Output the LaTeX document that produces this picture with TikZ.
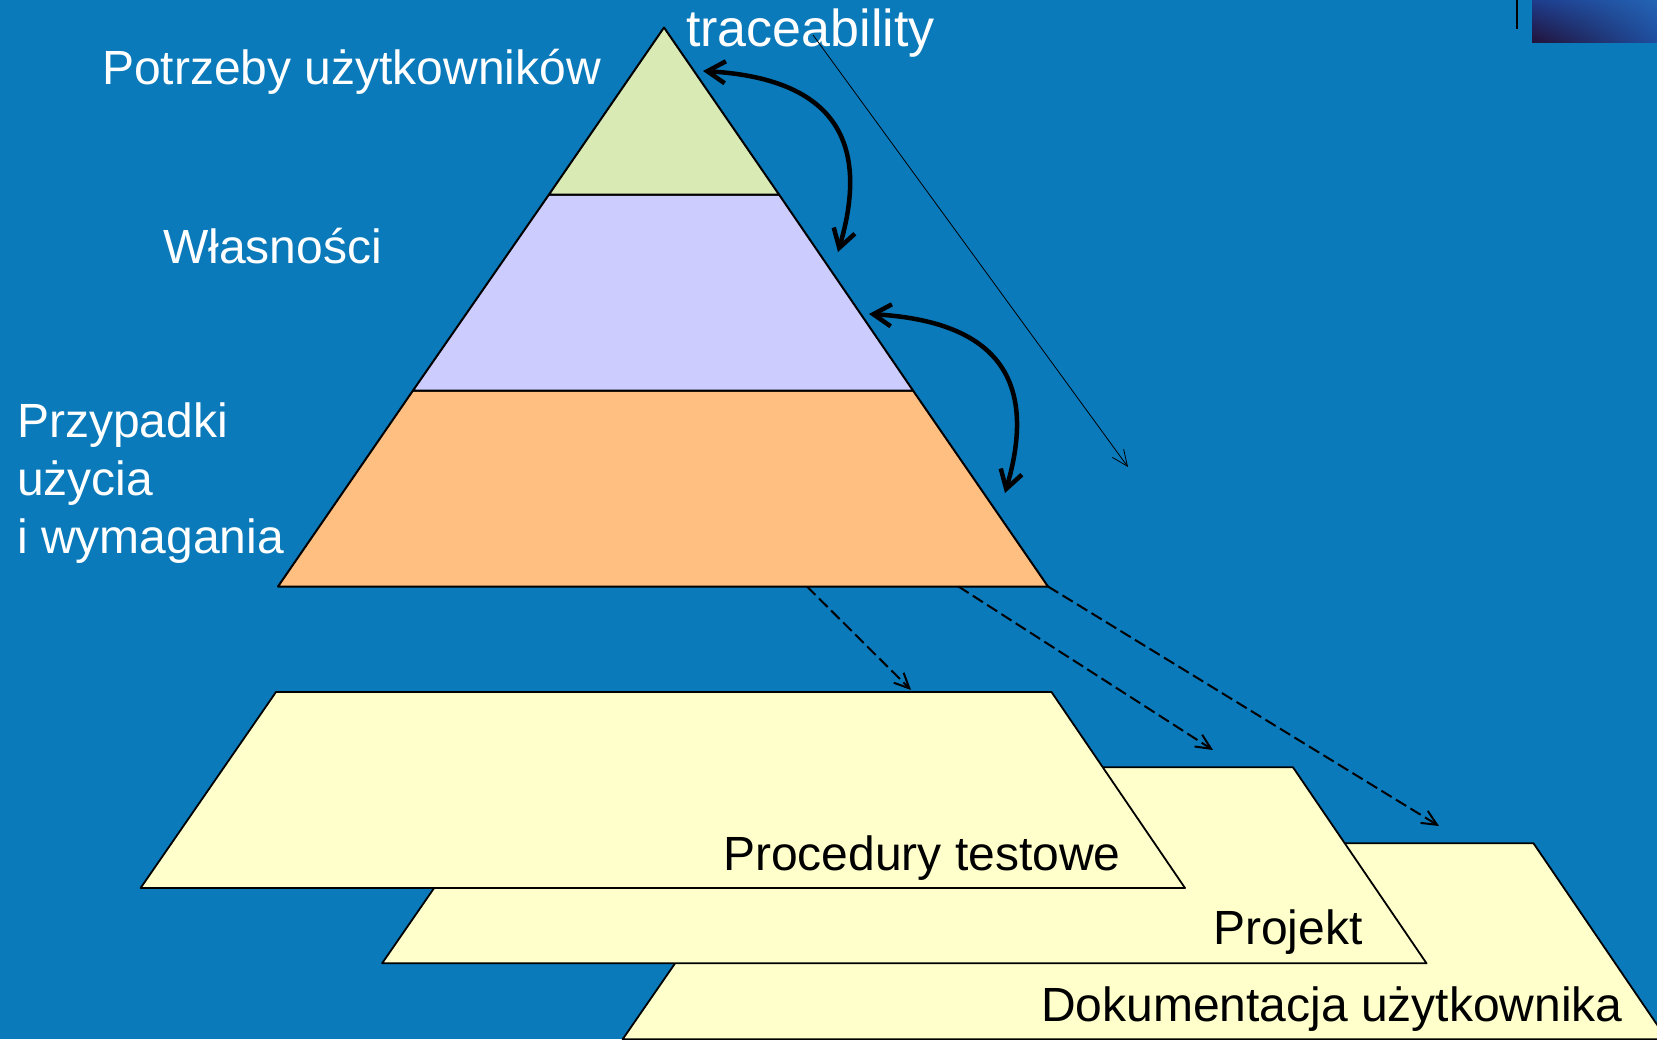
\documentclass[tikz,border=0pt]{standalone}
\usepackage{fontspec}
\setmainfont{Liberation Sans}
\usetikzlibrary{arrows.meta,shadings}

\definecolor{slideblue}{HTML}{0A7ABB}
\definecolor{needsgreen}{HTML}{D9EAB5}
\definecolor{featlilac}{HTML}{CCCCFF}
\definecolor{caseorange}{HTML}{FFBF80}
\definecolor{planeyellow}{HTML}{FFFFCC}

\tikzset{
  caption/.style={inner sep=0pt, anchor=base west, font=\fontsize{48}{57.6}\selectfont},
  tier/.style={draw=black, line width=2pt, line join=round},
  plane/.style={draw=black, line width=1.8pt, fill=planeyellow, line join=round},
  link/.style={line width=4.5pt, {Straight Barb[length=18pt,width=22pt]}-{Straight Barb[length=18pt,width=22pt]}},
  derive/.style={line width=2pt, dash pattern=on 12pt off 5pt, -{Straight Barb[length=15pt,width=14pt]}},
}

\begin{document}
\begin{tikzpicture}[x=1pt,y=-1pt]
  \useasboundingbox (0,0) rectangle (1657,1039);
  \fill[slideblue] (0,0) rectangle (1657,1039);
  \clip (0,0) rectangle (1657,1039);

  % corner ornament
  \definecolor{cornerUL}{HTML}{1E3C8C}
  \definecolor{cornerUR}{HTML}{2464B4}
  \definecolor{cornerLL}{HTML}{22123A}
  \definecolor{cornerLR}{HTML}{1E4EA0}
  \shade[upper left=cornerUL, upper right=cornerUR,
         lower left=cornerLL, lower right=cornerLR] (1532,0) rectangle (1657,42);
  \draw[line width=2pt] (1517,0) -- (1517,29);

  % lower planes, back to front
  \foreach \dx/\dy in {482/151.3, 241.5/75.3, 0/0} {
    \filldraw[plane, shift={(\dx,\dy)}] (276,692) -- (1051.5,692) -- (1185,888) -- (140.6,888) -- cycle;
  }
  \node[caption] (testproc) at (723,870) {Procedury testowe};
  \node[caption] (design) at (1213,944) {Projekt};
  \node[caption] (userdoc) at (1041,1021) {Dokumentacja użytkownika};

  % pyramid
  \coordinate (apex) at (664,27.5);
  \coordinate (topL) at (549,194.5);
  \coordinate (topR) at (779,194.5);
  \coordinate (midL) at (413,390.5);
  \coordinate (midR) at (913,390.5);
  \coordinate (baseL) at (278,586.5);
  \coordinate (baseR) at (1048,586.5);
  \filldraw[tier, fill=caseorange] (midL) -- (midR) -- (baseR) -- (baseL) -- cycle;
  \filldraw[tier, fill=featlilac] (topL) -- (topR) -- (midR) -- (midL) -- cycle;
  \filldraw[tier, fill=needsgreen] (apex) -- (topR) -- (topL) -- cycle;

  \node[caption, text=white] (needs) at (102,84) {Potrzeby użytkowników};
  \node[caption, text=white] (features) at (163,263) {Własności};
  \node[caption, text=white, align=left] (cases) at (17,553) {Przypadki\\użycia\\i wymagania};
  \node[caption, text=white, font=\fontsize{52}{62}\selectfont] (trace) at (686,46.5) {traceability};

  % traceability links
  \coordinate (n1) at (703,71);
  \coordinate (f1) at (838,252);
  \coordinate (f2) at (869,314);
  \coordinate (c2) at (1005,493);
  \draw[link] (n1) .. controls +(140,8) and +(30,-102) .. (f1);
  \draw[link] (f2) .. controls +(140,8) and +(30,-102) .. (c2);

  \coordinate (traceFrom) at (813,35);
  \coordinate (traceTo) at (1128,467);
  \draw[line width=0.8pt, -{Straight Barb[length=16pt,width=14pt]}] (traceFrom) -- (traceTo);

  % derived artefacts
  \coordinate (out1) at (807,586.5);
  \coordinate (out2) at (958.5,586.5);
  \coordinate (in1) at (911,690);
  \coordinate (in2) at (1213,750);
  \coordinate (in3) at (1439,826);
  \foreach \a/\b in {out1/in1, out2/in2, baseR/in3}
    \draw[derive] (\a) -- (\b);
\end{tikzpicture}
\end{document}
